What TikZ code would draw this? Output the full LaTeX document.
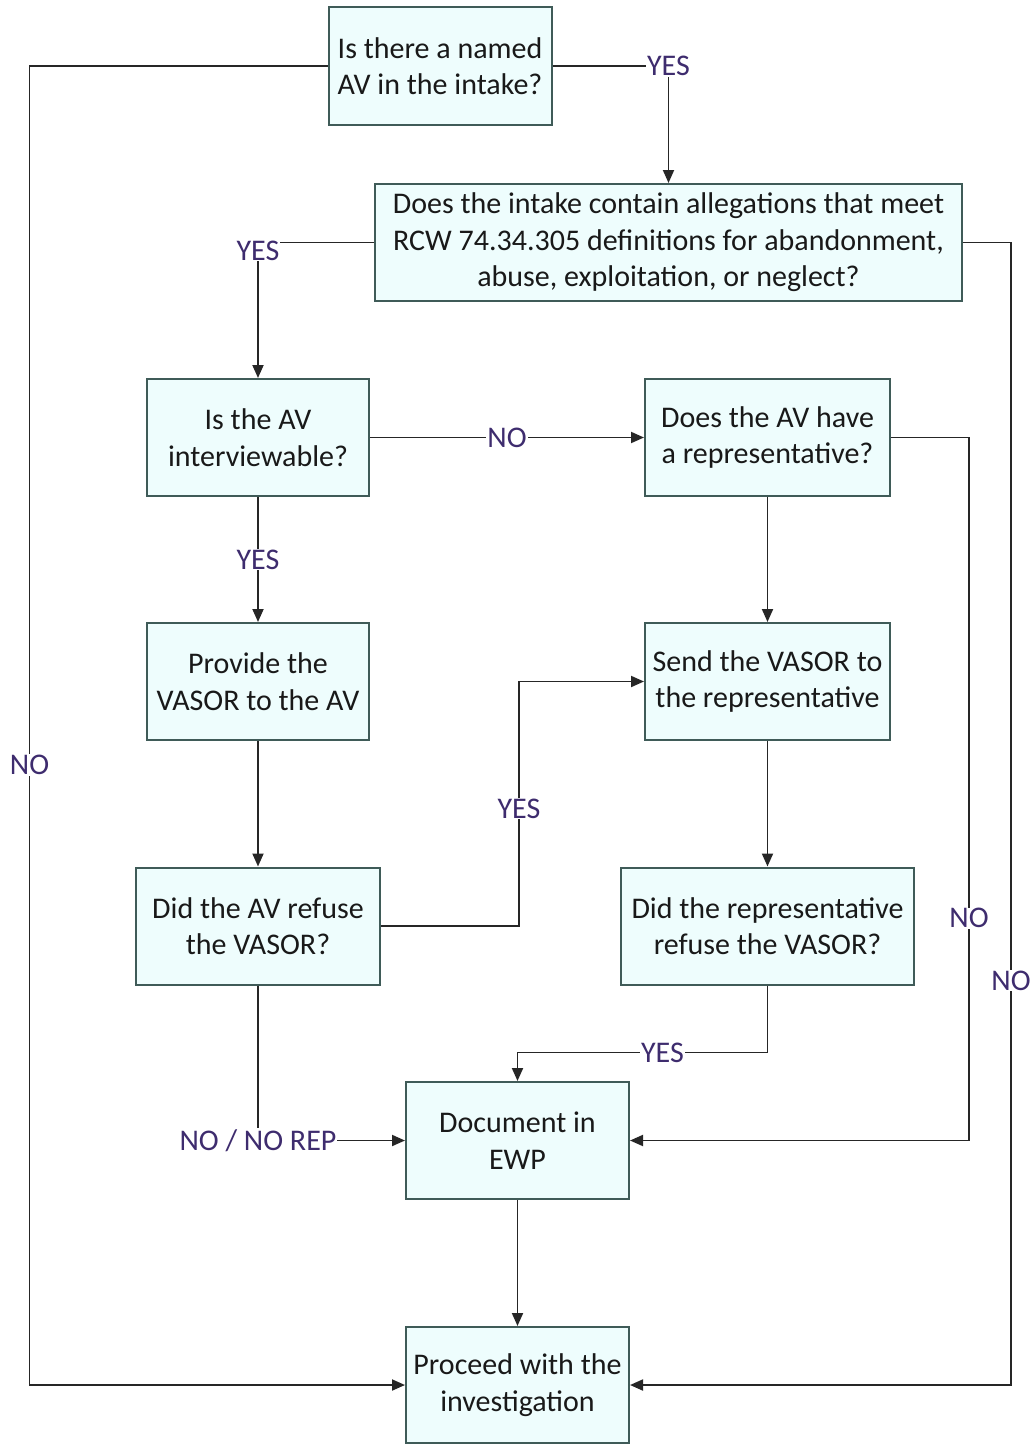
\documentclass[tikz,border=0pt]{standalone}
\usepackage{fontspec}
\setmainfont{Carlito}
\usetikzlibrary{arrows.meta}
\definecolor{boxfill}{HTML}{EEFDFD}
\definecolor{boxline}{HTML}{3F5B58}
\definecolor{wire}{HTML}{262626}
\definecolor{lbltext}{HTML}{3E2C6E}
\begin{document}
\begin{tikzpicture}[x=1pt,y=-1pt,
  box/.style={draw=boxline,fill=boxfill,line width=2pt,align=center,
    inner sep=2pt,text=black!90,font=\fontsize{30}{36.5}\selectfont},
  lbl/.style={fill=white,text=lbltext,inner sep=1pt,font=\fontsize{30}{32}\selectfont},
  conn/.style={draw=wire,line width=1.9pt,-{Triangle[length=13pt,width=11pt]}}]
\path[use as bounding box] (0,0) rectangle (1032,1445);

% decision and action boxes
\node[box,minimum width=223pt,minimum height=117pt] (named) at (440,66)
  {Is there a named\\AV in the intake?};
\node[box,minimum width=587pt,minimum height=117pt] (alleg) at (668.5,242.5)
  {Does the intake contain allegations that meet\\RCW 74.34.305 definitions for abandonment,\\abuse, exploitation, or neglect?};
\node[box,minimum width=222pt,minimum height=117pt] (interv) at (258,437.5)
  {Is the AV\\interviewable?};
\node[box,minimum width=245pt,minimum height=117pt] (hasrep) at (767.5,437.5)
  {Does the AV have\\a representative?};
\node[box,minimum width=222pt,minimum height=117pt] (provide) at (258,681.5)
  {Provide the\\VASOR to the AV};
\node[box,minimum width=245pt,minimum height=117pt] (sendrep) at (767.5,681.5)
  {Send the VASOR to\\the representative};
\node[box,minimum width=244pt,minimum height=117pt] (avref) at (258,926)
  {Did the AV refuse\\the VASOR?};
\node[box,minimum width=293pt,minimum height=117pt] (repref) at (767.5,926)
  {Did the representative\\refuse the VASOR?};
\node[box,minimum width=223pt,minimum height=117pt] (doc) at (517.5,1140.5)
  {Document in\\EWP};
\node[box,minimum width=223pt,minimum height=116pt] (proceed) at (517.5,1385)
  {Proceed with the\\investigation};

% connectors
\draw[conn] (named.east) -| node[lbl,pos=0.5]{YES} (alleg.north);
\draw[conn] (named.west) -- ++(-298,0) |- node[lbl,pos=0.265]{NO} (proceed.west);
\draw[conn] (alleg.west) -| node[lbl,pos=0.5,yshift=-8pt]{YES} (interv.north);
\draw[conn] (alleg.east) -- ++(48,0) |- node[lbl,pos=0.323]{NO} (proceed.east);
\draw[conn] (interv.east) -- node[lbl]{NO} (hasrep.west);
\draw[conn] (interv.south) -- node[lbl]{YES} (provide.north);
\draw[conn] (hasrep.south) -- (sendrep.north);
\draw[conn] (hasrep.east) -- ++(78,0) |- node[lbl,pos=0.342]{NO} (doc.east);
\draw[conn] (provide.south) -- (avref.north);
\draw[conn] (sendrep.south) -- (repref.north);
\draw[conn] (avref.east) -- ++(138,0) |- node[lbl,pos=0.24]{YES} (sendrep.west);
\draw[conn] (avref.south) |- node[lbl,pos=0.5]{NO / NO REP} (doc.west);
\draw[conn] (repref.south) -- ++(0,67) -| node[lbl,pos=0.21]{YES} (doc.north);
\draw[conn] (doc.south) -- (proceed.north);
\end{tikzpicture}
\end{document}
